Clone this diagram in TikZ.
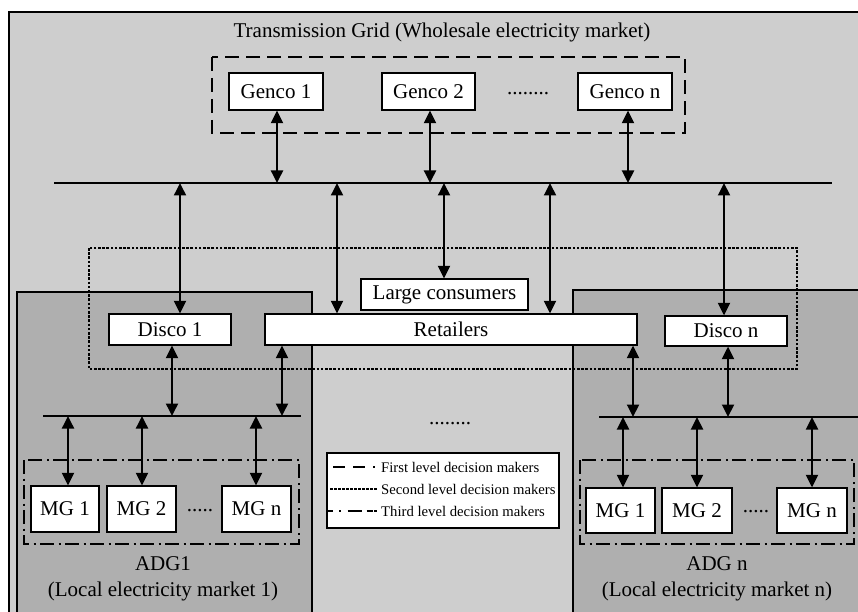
\documentclass[tikz,border=0pt]{standalone}
\usepackage{fontspec}
\setmainfont{Liberation Serif}
\usetikzlibrary{arrows.meta}
\definecolor{gridbg}{HTML}{CECECE}
\definecolor{adgbg}{HTML}{AFAFAF}
\tikzset{
  box/.style={draw=black, fill=white, line width=1.3pt, inner sep=0pt,
              font=\fontsize{21}{24}\selectfont, anchor=center},
  biarrow/.style={line width=1.9pt, {Triangle[length=12.5pt,width=12pt]}-{Triangle[length=12.5pt,width=12pt]}},
  busline/.style={line width=1.4pt},
  firstlvl/.style={line width=2.3pt, dash pattern=on 14pt off 7pt},
  secondlvl/.style={line width=1.7pt, dash pattern=on 2.6pt off 1.6pt},
  thirdlvl/.style={line width=2pt, dash pattern=on 14pt off 4.5pt on 2pt off 4.5pt},
  label/.style={font=\fontsize{21}{26}\selectfont, align=center, inner sep=0pt},
  dots/.style={font=\fontsize{21}{24}\selectfont, inner sep=0pt, anchor=base},
  legtext/.style={font=\fontsize{14.7}{17}\selectfont, inner sep=0pt, anchor=west},
}
\begin{document}
\begin{tikzpicture}[x=1pt,y=-1pt]
\useasboundingbox (0,0) rectangle (858,612);
\begin{scope}
\clip (0,0) rectangle (858,612);
\fill[white] (0,0) rectangle (858,612);
% transmission grid area
\draw[fill=gridbg, line width=1.2pt] (9,12) rectangle (875,630);
% active distribution grids
\draw[fill=adgbg, line width=1.2pt] (17,292) rectangle (312,630);
\draw[fill=adgbg, line width=1.2pt] (573,290) rectangle (875,630);
\end{scope}

\node[label] (title) at (442,32) {Transmission Grid (Wholesale electricity market)};

% first level: generation companies
\draw[firstlvl] (212,57) rectangle (685,133);
\node[box, minimum width=94pt, minimum height=37pt] (genco1) at (276,91.5) {Genco 1};
\node[box, minimum width=93pt, minimum height=37pt] (genco2) at (428.5,91.5) {Genco 2};
\node[box, minimum width=94pt, minimum height=37pt] (gencon) at (625,91.5) {Genco n};
\node[dots] (gdots) at (528,95) {........};

% transmission bus
\coordinate (busA) at (54,183);
\coordinate (busB) at (832,183);
\draw[busline] (busA) -- (busB);

\draw[biarrow] ([xshift=1pt]genco1.south) -- ([xshift=1pt]genco1.south |- busA);
\draw[biarrow] ([xshift=1.5pt]genco2.south) -- ([xshift=1.5pt]genco2.south |- busA);
\draw[biarrow] ([xshift=3pt]gencon.south) -- ([xshift=3pt]gencon.south |- busA);

% second level: distribution companies, retailers, large consumers
\draw[secondlvl] (89,248) rectangle (797,369);
\node[box, minimum width=167pt, minimum height=31pt] (large) at (444.5,294.5) {Large consumers};
\node[box, minimum width=372pt, minimum height=31pt] (retail) at (451,329.5) {Retailers};
\node[box, minimum width=122pt, minimum height=31pt] (disco1) at (170,329.5) {Disco 1};
\node[box, minimum width=122pt, minimum height=30pt] (discon) at (726,331) {Disco n};

\draw[biarrow] ([xshift=10pt]disco1.north |- busA) -- ([xshift=10pt]disco1.north);
\draw[biarrow] ([xshift=-114pt]retail.north |- busA) -- ([xshift=-114pt]retail.north);
\draw[biarrow] ([xshift=-0.5pt]large.north |- busA) -- ([xshift=-0.5pt]large.north);
\draw[biarrow] ([xshift=99pt]retail.north |- busA) -- ([xshift=99pt]retail.north);
\draw[biarrow] ([xshift=-2pt]discon.north |- busA) -- ([xshift=-2pt]discon.north);

% distribution buses
\coordinate (lbusA) at (43,416);
\coordinate (lbusB) at (301,416);
\coordinate (rbusA) at (599,417);
\coordinate (rbusB) at (870,417);
\draw[busline] (lbusA) -- (lbusB);
\draw[busline] (rbusA) -- (rbusB);

\draw[biarrow] ([xshift=2pt]disco1.south) -- ([xshift=2pt]disco1.south |- lbusA);
\draw[biarrow] ([xshift=-169pt]retail.south) -- ([xshift=-169pt]retail.south |- lbusA);
\draw[biarrow] ([xshift=182pt]retail.south) -- ([xshift=182pt]retail.south |- rbusA);
\draw[biarrow] ([xshift=2pt]discon.south) -- ([xshift=2pt]discon.south |- rbusA);

% third level: microgrids of ADG1
\draw[thirdlvl] (24,460) rectangle (299,544);
\node[box, minimum width=68pt, minimum height=46pt] (lmg1) at (65,509) {MG 1};
\node[box, minimum width=69pt, minimum height=46pt] (lmg2) at (141.5,509) {MG 2};
\node[box, minimum width=69pt, minimum height=46pt] (lmgn) at (256.5,509) {MG n};
\node[dots] (ldots) at (200,511) {.....};
\draw[biarrow] ([xshift=3pt]lmg1.north |- lbusA) -- ([xshift=3pt]lmg1.north);
\draw[biarrow] ([xshift=0.5pt]lmg2.north |- lbusA) -- ([xshift=0.5pt]lmg2.north);
\draw[biarrow] ([xshift=-0.5pt]lmgn.north |- lbusA) -- ([xshift=-0.5pt]lmgn.north);
\node[label] (adg1) at (163,579) {ADG1\\(Local electricity market 1)};

% third level: microgrids of ADG n
\draw[thirdlvl] (580,460) rectangle (854,544);
\node[box, minimum width=69pt, minimum height=45pt] (rmg1) at (620.5,510.5) {MG 1};
\node[box, minimum width=70pt, minimum height=45pt] (rmg2) at (697,510.5) {MG 2};
\node[box, minimum width=70pt, minimum height=45pt] (rmgn) at (812,510.5) {MG n};
\node[dots] (rdots) at (756,512) {.....};
\draw[biarrow] ([xshift=2.5pt]rmg1.north |- rbusA) -- ([xshift=2.5pt]rmg1.north);
\draw[biarrow] ([xshift=0pt]rmg2.north |- rbusA) -- ([xshift=0pt]rmg2.north);
\draw[biarrow] ([xshift=0pt]rmgn.north |- rbusA) -- ([xshift=0pt]rmgn.north);
\node[label] (adgn) at (717,579) {ADG n\\(Local electricity market n)};

% further ADGs
\node[dots] (mdots) at (450,424) {........};

% legend
\node[draw=black, fill=white, line width=2pt, minimum width=232pt, minimum height=75pt, inner sep=0pt]
  (legend) at (443,490.5) {};
\coordinate (k1) at (330,467);
\coordinate (k2) at (330,489);
\coordinate (k3) at (330,511);
\draw[line width=1.8pt, dash pattern=on 12pt off 8pt] ([xshift=3pt]k1) -- ([xshift=45pt]k1);
\draw[line width=1.5pt, dash pattern=on 2.5pt off 1.5pt] (k2) -- ([xshift=48pt]k2);
\draw[line width=1.8pt, dash pattern=on 5pt off 6pt on 1.5pt off 7pt on 14pt] ([xshift=-2pt]k3) -- ([xshift=47pt]k3);
\node[legtext] (l1) at (381,467) {First level decision makers};
\node[legtext] (l2) at (381,489) {Second level decision makers};
\node[legtext] (l3) at (381,511) {Third level decision makers};
\end{tikzpicture}
\end{document}
